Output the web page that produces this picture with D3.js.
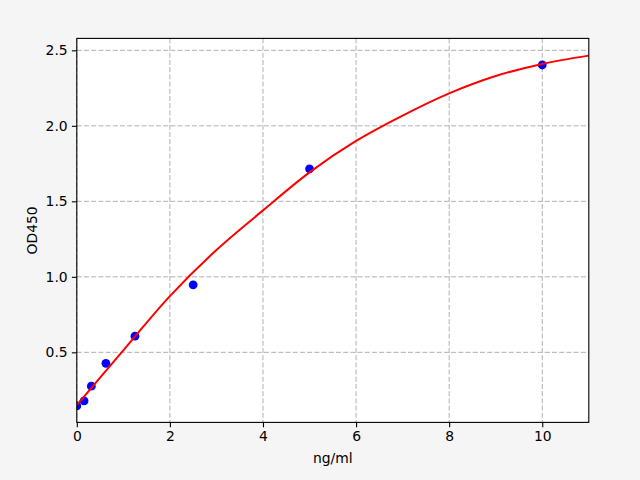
<!DOCTYPE html>
<html>
<head>
<meta charset="utf-8">
<script src="https://cdn.jsdelivr.net/npm/d3@7"></script>
<style>
  body { margin: 0; background: #f5f5f5; }
  svg { display: block; }
  text { font-family: "DejaVu Sans", sans-serif; fill: #000; }
</style>
</head>
<body>
<div id="chart"></div>
<script>
// standard points (concentration, OD)
const conc = [0, 0.156, 0.3125, 0.625, 1.25, 2.5, 5, 10];
const od = [0.145, 0.178, 0.276, 0.427, 0.607, 0.947, 1.715, 2.403];

// fitted curve
const curveX = [0, 1, 2, 3, 4, 5, 6, 7, 8, 9, 10, 11];
const curveY = [0.15, 0.513, 0.872, 1.178, 1.44, 1.692, 1.9, 2.068, 2.215, 2.33, 2.41, 2.465];

const xTicks = [0, 2, 4, 6, 8, 10];
const yTicks = [0.5, 1.0, 1.5, 2.0, 2.5];

const width = 640;
const height = 480;
const margin = { top: 38.4, right: 51.2, bottom: 57.6, left: 76.8 };
const innerW = width - margin.left - margin.right;
const innerH = height - margin.top - margin.bottom;

const x = d3.scaleLinear().domain([0, 11]).range([0, innerW]);
const y = d3.scaleLinear().domain([0.036, 2.579]).range([innerH, 0]);

const svg = d3
  .select("#chart")
  .append("svg")
  .attr("width", width)
  .attr("height", height)
  .style("background-color", "#f5f5f5");

svg.append("defs")
  .append("clipPath")
  .attr("id", "plot-clip")
  .append("rect")
  .attr("width", innerW)
  .attr("height", innerH);

const g = svg.append("g").attr("transform", `translate(${margin.left},${margin.top})`);

g.append("rect")
  .attr("width", innerW)
  .attr("height", innerH)
  .attr("fill", "#ffffff");

// grid
g.append("g")
  .attr("class", "grid")
  .selectAll("line.vx")
  .data(xTicks)
  .enter()
  .append("line")
  .attr("x1", (d) => x(d))
  .attr("x2", (d) => x(d))
  .attr("y1", 0)
  .attr("y2", innerH)
  .attr("stroke", "#b0b0b0")
  .attr("stroke-width", 1)
  .attr("stroke-dasharray", "5,2.2");

g.append("g")
  .attr("class", "grid")
  .selectAll("line.hy")
  .data(yTicks)
  .enter()
  .append("line")
  .attr("x1", 0)
  .attr("x2", innerW)
  .attr("y1", (d) => y(d))
  .attr("y2", (d) => y(d))
  .attr("stroke", "#b0b0b0")
  .attr("stroke-width", 1)
  .attr("stroke-dasharray", "5,2.2");

const plot = g.append("g").attr("clip-path", "url(#plot-clip)");

// points
plot.append("g")
  .selectAll("circle")
  .data(conc)
  .enter()
  .append("circle")
  .attr("cx", (d) => x(d))
  .attr("cy", (d, i) => y(od[i]))
  .attr("r", 4.4)
  .attr("fill", "#0000ff");

// fit line
const line = d3
  .line()
  .x((d) => x(d))
  .y((d, i) => y(curveY[i]))
  .curve(d3.curveCatmullRom.alpha(0.5));

plot.append("path")
  .datum(curveX)
  .attr("d", line)
  .attr("fill", "none")
  .attr("stroke", "#ff0000")
  .attr("stroke-width", 2);

// axes
const xAxis = d3.axisBottom(x).tickValues(xTicks).tickFormat(d3.format("d")).tickSize(4.9).tickPadding(4.2);
const yAxis = d3.axisLeft(y).tickValues(yTicks).tickFormat(d3.format(".1f")).tickSize(4.9).tickPadding(4.2);

const gx = g.append("g").attr("transform", `translate(0,${innerH})`).call(xAxis);
const gy = g.append("g").call(yAxis);

[gx, gy].forEach((ax) => {
  ax.select(".domain").remove();
  ax.selectAll(".tick line").attr("stroke", "#000").attr("stroke-width", 1.1);
  ax.selectAll(".tick text")
    .attr("font-size", "13.9px")
    .attr("font-family", "DejaVu Sans, sans-serif")
    .attr("fill", "#000");
});

// frame
g.append("rect")
  .attr("width", innerW)
  .attr("height", innerH)
  .attr("fill", "none")
  .attr("stroke", "#000")
  .attr("stroke-width", 1.1);

// labels
svg.append("text")
  .attr("x", margin.left + innerW / 2)
  .attr("y", 463)
  .attr("text-anchor", "middle")
  .attr("font-size", "13.9px")
  .text("ng/ml");

svg.append("text")
  .attr("transform", `translate(36.5,${margin.top + innerH / 2}) rotate(-90)`)
  .attr("text-anchor", "middle")
  .attr("font-size", "13.9px")
  .text("OD450");
</script>
</body>
</html>
